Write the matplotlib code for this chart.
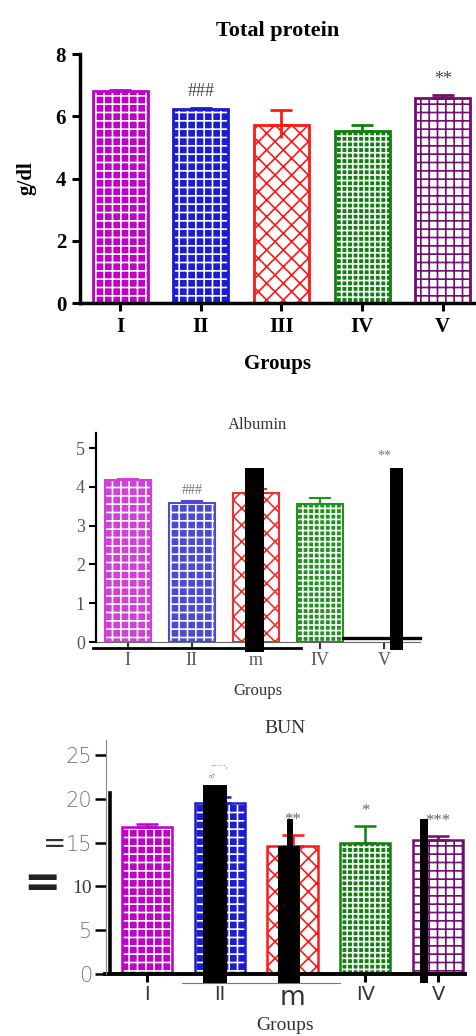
import numpy as np
import matplotlib.pyplot as plt

# group labels and values for the three serum panels
groups = ["I", "II", "III", "IV", "V"]
alb_ticks = ["I", "II", "m", "IV", "V"]

tp_mean = [6.82, 6.22, 5.73, 5.52, 6.60]
tp_err = [0.04, 0.05, 0.48, 0.20, 0.07]
tp_marks = ["", "###", "", "", "**"]

alb_mean = [4.18, 3.58, 3.85, 3.55, np.nan]
alb_err = [0.02, 0.05, 0.10, 0.17, 0.0]
alb_marks = ["", "###", "", "", "**"]

bun_mean = [16.8, 19.5, 14.6, 14.9, 15.3]
bun_err = [0.3, 0.7, 1.3, 2.0, 0.4]
bun_marks = ["", "", "**", "*", "***"]

colors1 = ["#c000c8", "#1c1cd0", "#ff1818", "#118011", "#740a74"]
colors2 = ["#d040d8", "#4a4ad4", "#f03030", "#1f921f", "#740a74"]
# (filled?, hatch) for each group
styles = [(True, "++"), (True, "++"), (False, "xx"), (True, "+++"), (False, "++")]

plt.rcParams["hatch.linewidth"] = 1.2

fig = plt.figure(figsize=(4.77, 10.36), dpi=100)


def draw_bars(ax, x, means, errs, cols, width, lw):
    for xi, m, e, c, (filled, h) in zip(x, means, errs, cols, styles):
        if np.isnan(m):
            continue
        if filled:
            ax.bar(xi, m, width, color=c, edgecolor="white", hatch=h, linewidth=0)
        else:
            ax.bar(xi, m, width, color="white", edgecolor=c, hatch=h, linewidth=0)
        ax.bar(xi, m, width, fill=False, edgecolor=c, linewidth=lw)
        ax.errorbar(xi, m, yerr=[[0], [e]], color=c, capsize=8, capthick=lw,
                    elinewidth=lw)


x = np.arange(len(groups))

# ---- Total protein ----
ax1 = fig.add_axes([0.168, 0.7075, 0.828, 0.2403])
draw_bars(ax1, x, tp_mean, tp_err, colors1, 0.68, 2.0)
ax1.errorbar(2, tp_mean[2], yerr=[[tp_err[2] * 0.9], [0]], color=colors1[2], elinewidth=2)
ax1.set_xlim(-0.495, 4.4)
ax1.set_ylim(0, 8)
ax1.set_yticks([0, 2, 4, 6, 8])
ax1.set_xticks(x)
ax1.set_xticklabels(groups)
serif_b = dict(family="Liberation Serif", weight="bold", size=15)
for lab in ax1.get_xticklabels() + ax1.get_yticklabels():
    lab.set_fontproperties("Liberation Serif")
    lab.set_fontweight("bold")
    lab.set_fontsize(15)
ax1.tick_params(width=2.2, length=6, pad=4)
for s in ["top", "right"]:
    ax1.spines[s].set_visible(False)
for s in ["left", "bottom"]:
    ax1.spines[s].set_linewidth(2.5)
ax1.set_title("Total protein", pad=13, family="Liberation Serif", weight="bold", size=16)
ax1.set_ylabel("g/dl", labelpad=14, **serif_b)
ax1.set_xlabel("Groups", labelpad=12, **serif_b)
for xi, m, e, t in zip(x, tp_mean, tp_err, tp_marks):
    if t:
        ax1.text(xi, m + e + 0.25, t, ha="center", va="bottom", color="#444444",
                 family="Liberation Serif", fontsize=13)

# ---- Albumin ----
ax2 = fig.add_axes([0.201, 0.3803, 0.679, 0.2017])
draw_bars(ax2, x, alb_mean, alb_err, colors2, 0.72, 1.5)
ax2.set_xlim(-0.5, 4.56)
ax2.set_ylim(0, 5.39)
ax2.set_yticks([0, 1, 2, 3, 4, 5])
ax2.set_xticks(x)
ax2.set_xticklabels(alb_ticks)
for lab in ax2.get_xticklabels() + ax2.get_yticklabels():
    lab.set_fontproperties("Liberation Serif")
    lab.set_fontsize(13)
    lab.set_color("#555555")
ax2.tick_params(axis="y", width=1.5, length=5, pad=3)
ax2.tick_params(axis="x", width=1.5, length=5, pad=2, color="#333333")
for s in ["top", "right", "bottom"]:
    ax2.spines[s].set_visible(False)
ax2.spines["left"].set_linewidth(1.6)
ax2.plot([-0.55, 2.7], [-0.15, -0.15], color="black", lw=2, clip_on=False)
ax2.plot([3.36, 4.56], [0.1, 0.1], color="black", lw=2.4, clip_on=False)
ax2.plot([-0.5, 4.56], [0, 0], color="#666666", lw=0.8, clip_on=False)
ax2.set_title("Albumin", pad=2, family="Liberation Serif", fontsize=12, color="#333333")
ax2.set_xlabel("Groups", labelpad=10, family="Liberation Serif", fontsize=12, color="#333333")
for xi, m, e, t in zip(x, alb_mean, alb_err, alb_marks):
    if t:
        y = (m + e + 0.12) if not np.isnan(m) else 4.62
        ax2.text(xi, y, t, ha="center", va="bottom", color="#777777",
                 family="Liberation Serif", fontsize=10)
# blacked-out strips
alb_block_x = [1.98, 4.2]
alb_block_w = [0.30, 0.20]
alb_block_top = [4.48, 4.48]
alb_block_bot = [-0.26, -0.2]
for bx, bw, bt, bb in zip(alb_block_x, alb_block_w, alb_block_top, alb_block_bot):
    ax2.bar(bx, bt - bb, bw, bottom=bb, color="black", clip_on=False, zorder=5)

# ---- BUN ----
ax3 = fig.add_axes([0.222, 0.0598, 0.753, 0.2259])
draw_bars(ax3, x, bun_mean, bun_err, colors1, 0.69, 1.8)
ax3.set_xlim(-0.564, 4.37)
ax3.set_ylim(0, 26.7)
ax3.set_yticks([0, 5, 10, 15, 20, 25])
ax3.set_yticklabels(["0", "5", "10", "15", "20", "25"])
ax3.set_xticks(x)
ax3.set_xticklabels(["I", "II", "m", "IV", "V"])
for lab in ax3.get_yticklabels():
    lab.set_fontsize(15)
    lab.set_color("#777777")
    lab.set_fontweight("light")
ax3.get_yticklabels()[2].set_fontproperties("Liberation Serif")
ax3.get_yticklabels()[2].set_fontsize(14)
ax3.get_yticklabels()[2].set_color("#333333")
for lab in ax3.get_xticklabels():
    lab.set_fontsize(14)
    lab.set_color("#333333")
ax3.get_xticklabels()[2].set_fontsize(19)
ax3.tick_params(axis="y", width=1.8, length=8, pad=2, color="black")
ax3.tick_params(axis="x", width=2.2, length=6, pad=2)
for s in ["top", "right", "bottom"]:
    ax3.spines[s].set_visible(False)
ax3.spines["left"].set_linewidth(0.8)
ax3.spines["left"].set_color("#888888")
ax3.plot([-0.51, -0.51], [0, 20.7], color="black", lw=2.6, clip_on=False)
ax3.plot([-0.58, 4.37], [0, 0], color="black", lw=2.8, clip_on=False)
ax3.plot([0.48, 2.65], [-1.0, -1.0], color="#777777", lw=0.8, clip_on=False)
ax3.set_title("BUN", pad=5, family="Liberation Serif", fontsize=14, color="#333333")
ax3.set_xlabel("Groups", labelpad=4, family="Liberation Serif", fontsize=14, color="#333333")
for xi, m, e, t in zip(x, bun_mean, bun_err, bun_marks):
    if t:
        ax3.text(xi, m + e + 0.8, t, ha="center", va="bottom", color="#666666",
                 family="Liberation Serif", fontsize=12)
ax3.text(1.0, 23.4, "·······,", ha="center", va="bottom", color="#666666", fontsize=5)
ax3.text(0.9, 22.2, "n7", ha="center", va="bottom", color="#666666", fontsize=5,
         style="italic", family="Liberation Serif")
bun_block_x = [0.935, 1.95, 1.97, 3.81]
bun_block_w = [0.33, 0.30, 0.08, 0.11]
bun_block_top = [21.6, 14.6, 17.7, 17.7]
bun_block_bot = [-1.0, -1.0, 14.0, -1.0]
for bx, bw, bt, bb in zip(bun_block_x, bun_block_w, bun_block_top, bun_block_bot):
    ax3.bar(bx, bt - bb, bw, bottom=bb, color="black", clip_on=False, zorder=5)

fig.text(55 / 477, 1 - 844 / 1036, "=", ha="center", va="center", fontsize=20,
         color="#333333")
fig.text(42 / 477, 1 - 883 / 1036, "=", ha="center", va="center", fontsize=32,
         weight="bold", color="#222222")

fig.savefig("out.png", dpi=100)
